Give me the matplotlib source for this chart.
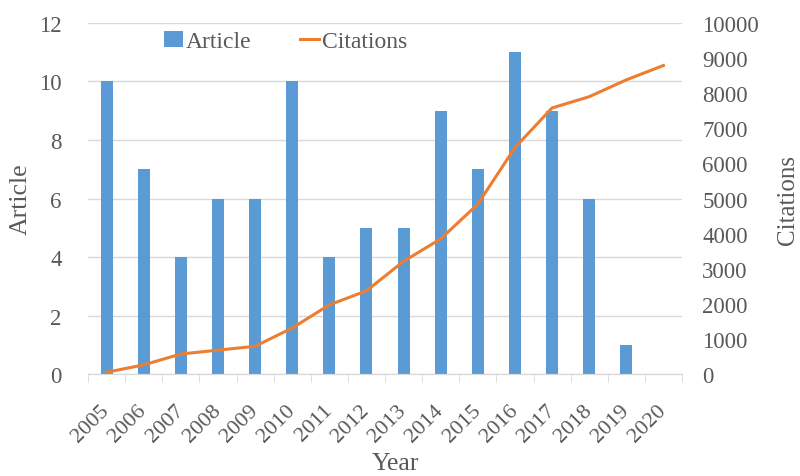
import numpy as np
import matplotlib.pyplot as plt

years = ['2005', '2006', '2007', '2008', '2009', '2010', '2011', '2012',
         '2013', '2014', '2015', '2016', '2017', '2018', '2019', '2020']
articles = [10, 7, 4, 6, 6, 10, 4, 5, 5, 9, 7, 11, 9, 6, 1, 0]
citations = [50, 260, 570, 680, 790, 1310, 1970, 2370,
             3210, 3850, 4840, 6450, 7580, 7900, 8380, 8790]

plt.rcParams['font.family'] = ['Liberation Serif', 'DejaVu Serif']
txt = '#595959'
bar_c = '#5b9bd5'
line_c = '#ed7d31'

fig = plt.figure(figsize=(8, 4.77), dpi=100)
ax = fig.add_axes([0.11, 0.2138, 0.7425, 0.7359])
ax2 = ax.twinx()

x = np.arange(len(years))
b = ax.bar(x, articles, width=0.32, color=bar_c, label='Article', zorder=2)
l, = ax2.plot(x, citations, color=line_c, lw=2.2, label='Citations', zorder=3)

ax.set_xlim(-0.5, len(years) - 0.5)
ax.set_ylim(0, 12)
ax.set_yticks(range(0, 13, 2))
ax2.set_ylim(0, 10000)
ax2.set_yticks(range(0, 10001, 1000))

ax.grid(axis='y', color='#d9d9d9', lw=1, zorder=0)
ax.set_axisbelow(True)
for a in (ax, ax2):
    for s in ['top', 'left', 'right']:
        a.spines[s].set_visible(False)
    a.spines['bottom'].set_color('#d9d9d9')
    a.tick_params(axis='y', length=0, labelsize=16.5, colors=txt)
ax.tick_params(axis='y', pad=19)
ax2.tick_params(axis='y', pad=14.5)

ax.set_xticks(x)
ax.set_xticklabels(years, rotation=45, ha='right', va='center', rotation_mode='anchor')
ax.set_xticks(np.arange(-0.5, len(years)), minor=True)
ax.tick_params(axis='x', which='major', length=0, labelsize=16, colors=txt, pad=24)
ax.tick_params(axis='x', which='minor', length=6, color='#d9d9d9')

ax.set_xlabel('Year', fontsize=18.5, color=txt)
ax.set_ylabel('Article', fontsize=18.5, color=txt)
ax2.set_ylabel('Citations', fontsize=18, color=txt)
ax.xaxis.set_label_coords(0.517, -0.222)
ax.yaxis.set_label_coords(-0.094, 0.5)
ax2.yaxis.set_label_coords(1.160, 0.5)

leg = ax.legend([b, l], ['Article', 'Citations'], loc='center left',
                bbox_to_anchor=(0.128, 0.947), ncol=2, frameon=False, fontsize=17,
                handlelength=0.8, handletextpad=0.1, columnspacing=2.1,
                borderpad=0, borderaxespad=0)
for t in leg.get_texts():
    t.set_color(txt)

fig.savefig('out.png', dpi=100)
